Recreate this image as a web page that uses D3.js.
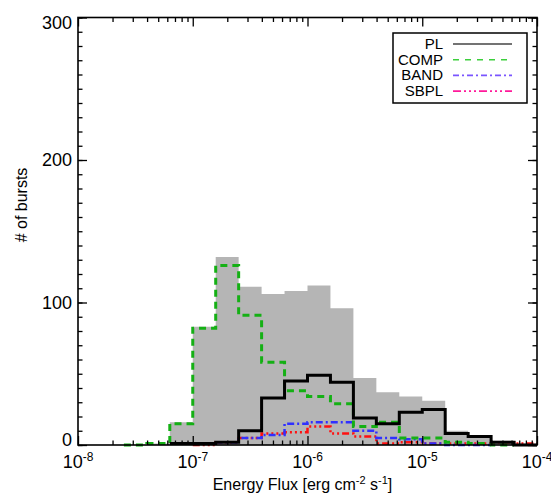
<!DOCTYPE html>
<html>
<head>
<meta charset="utf-8">
<script src="https://cdn.jsdelivr.net/npm/d3@7"></script>
<style>
  body { margin: 0; background: #fff; }
  text { font-family: "Liberation Sans", Arial, sans-serif; fill: #000; }
</style>
</head>
<body>
<div id="chart"></div>
<script>
// left bin edges, log10(energy flux), 0.2 dex bins
const binEdges = [-7.6, -7.4, -7.2, -7.0, -6.8, -6.6, -6.4, -6.2, -6.0, -5.8,
  -5.6, -5.4, -5.2, -5.0, -4.8, -4.6, -4.4, -4.2];
const binWidth = 0.2;

// counts per bin (null = not drawn)
const allBursts = [0, 1, 16, 83, 132, 111, 106, 108, 112, 96, 47, 37, 34, 31, 10, 7, 3, 1];
const plCounts = [null, null, 1, 1, 2, 10, 33, 45, 49, 44, 19, 15, 23, 25, 8, 6, 2, 0];
const compCounts = [0, 1, 15, 82, 126, 91, 58, 38, 34, 29, 13, 16, 5, 5, 2, 1, 0, null];
const bandCounts = [null, null, null, null, 2, 5, 7, 15, 16, 16, 10, 5, 4, 1, 0, 0, null, null];
const sbplCounts = [null, null, null, 0, 2, 5, 8, 9, 13, 8, 6, 1, 2, 1, 1, 1, 2, 1];

const xDecades = [-8, -7, -6, -5, -4];
const yTicks = [0, 100, 200, 300];

const legendNames = ['PL', 'COMP', 'BAND', 'SBPL'];

const width = 551;
const height = 494;
const margin = { top: 17.5, right: 14, bottom: 49, left: 78 };

const x = d3.scaleLog()
    .domain([1e-8, 1e-4])
    .range([margin.left, width - margin.right]);

const y = d3.scaleLinear()
    .domain([0, 300])
    .range([height - margin.bottom, margin.top]);

const svg = d3.select('#chart').append('svg')
    .attr('width', width)
    .attr('height', height);

const series = [
  { name: 'PL', values: plCounts, color: '#000', legendColor: '#444', width: 3, dash: null, legendDash: null },
  { name: 'COMP', values: compCounts, color: '#14b014', legendColor: '#3ccf3c', width: 3, dash: '7,5', legendDash: '6,6' },
  { name: 'BAND', values: bandCounts, color: '#3030ff', legendColor: '#7a55ff', width: 2.5, dash: '7,3,2,3', legendDash: '6,3,2,3' },
  { name: 'SBPL', values: sbplCounts, color: '#ff1010', legendColor: '#ff1a9a', width: 2.5, dash: '7,3,2,3,2,3,2,3', legendDash: '8,3,2,3,2,3,2,3' },
];

const xe = (e) => x(Math.pow(10, e));

// grey total histogram (filled)
let area = `M${xe(binEdges[0])},${y(0)}`;
allBursts.forEach((v, i) => {
  area += `V${y(v)}H${xe(binEdges[i] + binWidth)}`;
});
area += `V${y(0)}Z`;
svg.append('path')
    .attr('d', area)
    .attr('fill', '#b5b5b5');

// step lines
const stepPath = (values) => {
  let d = '';
  values.forEach((v, i) => {
    if (v === null) return;
    const x0 = xe(binEdges[i]);
    const x1 = xe(binEdges[i] + binWidth);
    d += d === '' ? `M${x0},${y(v)}` : `V${y(v)}`;
    d += `H${x1}`;
  });
  return d;
};

svg.selectAll('.step')
    .data(series.slice().reverse())
  .enter()
    .append('path')
    .attr('class', 'step')
    .attr('d', (d) => stepPath(d.values))
    .attr('fill', 'none')
    .attr('stroke', (d) => d.color)
    .attr('stroke-width', (d) => d.width)
    .attr('stroke-dasharray', (d) => d.dash);

// axes, IDL style: ticks inside on all four sides
const minorX = [];
xDecades.slice(0, -1).forEach((p) => {
  for (let m = 2; m <= 9; m++) minorX.push(m * Math.pow(10, p));
});
const majorX = xDecades.map((p) => Math.pow(10, p));
const minorY = d3.range(0, 301, 10);

const styleAxis = (g) => {
  g.select('.domain').remove();
  g.selectAll('line').attr('stroke', '#000').attr('stroke-width', 1.3);
};

const x0 = margin.left;
const x1 = width - margin.right;
const y0 = height - margin.bottom;
const y1 = margin.top;

svg.append('g').attr('transform', `translate(0,${y0})`)
    .call(d3.axisBottom(x).tickValues(minorX).tickSize(-4.5).tickFormat(''))
    .call(styleAxis);
svg.append('g').attr('transform', `translate(0,${y0})`)
    .call(d3.axisBottom(x).tickValues(majorX).tickSize(-9).tickFormat(''))
    .call(styleAxis);
svg.append('g').attr('transform', `translate(0,${y1})`)
    .call(d3.axisTop(x).tickValues(minorX).tickSize(-4.5).tickFormat(''))
    .call(styleAxis);
svg.append('g').attr('transform', `translate(0,${y1})`)
    .call(d3.axisTop(x).tickValues(majorX).tickSize(-9).tickFormat(''))
    .call(styleAxis);

svg.append('g').attr('transform', `translate(${x0},0)`)
    .call(d3.axisLeft(y).tickValues(minorY).tickSize(-4.5).tickFormat(''))
    .call(styleAxis);
const yAxisG = svg.append('g').attr('transform', `translate(${x0},0)`)
    .call(d3.axisLeft(y).tickValues(yTicks).tickSize(-9).tickPadding(6))
    .call(styleAxis);
yAxisG.selectAll('text')
    .attr('font-size', 18)
    .attr('font-family', '"Liberation Sans", Arial, sans-serif')
    .attr('fill', '#000')
    .attr('dy', (d) => (d === 0 ? '-0.0em' : d === 300 ? '0.62em' : '0.32em'));

svg.append('g').attr('transform', `translate(${x1},0)`)
    .call(d3.axisRight(y).tickValues(minorY).tickSize(-4.5).tickFormat(''))
    .call(styleAxis);
svg.append('g').attr('transform', `translate(${x1},0)`)
    .call(d3.axisRight(y).tickValues(yTicks).tickSize(-9).tickFormat(''))
    .call(styleAxis);

// frame
svg.append('rect')
    .attr('x', x0)
    .attr('y', y1)
    .attr('width', x1 - x0)
    .attr('height', y0 - y1)
    .attr('fill', 'none')
    .attr('stroke', '#000')
    .attr('stroke-width', 1.6);

// x tick labels 10^n
const xLab = svg.selectAll('.xlab')
    .data(majorX)
  .enter()
    .append('text')
    .attr('class', 'xlab')
    .attr('x', (d) => x(d))
    .attr('y', y0 + 23)
    .attr('text-anchor', 'middle')
    .attr('font-size', 18);
xLab.append('tspan').text('10');
xLab.append('tspan')
    .attr('dy', -7)
    .attr('font-size', 12)
    .text((d) => String(Math.round(Math.log10(d))));

// axis titles
const xTitle = svg.append('text')
    .attr('x', (x0 + x1) / 2 - 5)
    .attr('y', 490)
    .attr('text-anchor', 'middle')
    .attr('font-size', 16);
xTitle.append('tspan').text('Energy Flux [erg cm');
xTitle.append('tspan').attr('dy', -6).attr('font-size', 11).text('-2');
xTitle.append('tspan').attr('dy', 6).text(' s');
xTitle.append('tspan').attr('dy', -6).attr('font-size', 11).text('-1');
xTitle.append('tspan').attr('dy', 6).text(']');

svg.append('text')
    .attr('transform', 'translate(27,205) rotate(-90)')
    .attr('text-anchor', 'middle')
    .attr('font-size', 16)
    .text('# of bursts');

// legend
const legend = svg.append('g');
legend.append('rect')
    .attr('x', 393)
    .attr('y', 33)
    .attr('width', 134)
    .attr('height', 70)
    .attr('fill', '#fff')
    .attr('stroke', '#000')
    .attr('stroke-width', 1.5);

const legendRow = legend.selectAll('.lrow')
    .data(series)
  .enter()
    .append('g')
    .attr('class', 'lrow')
    .attr('transform', (d, i) => `translate(0,${44 + i * 15.7})`);

legendRow.append('text')
    .attr('x', 443)
    .attr('y', 5)
    .attr('text-anchor', 'end')
    .attr('font-size', 15)
    .text((d, i) => legendNames[i]);

legendRow.append('line')
    .attr('x1', 453)
    .attr('x2', 512)
    .attr('stroke', (d) => d.legendColor)
    .attr('stroke-width', 1.6)
    .attr('stroke-dasharray', (d) => d.legendDash);
</script>
</body>
</html>
